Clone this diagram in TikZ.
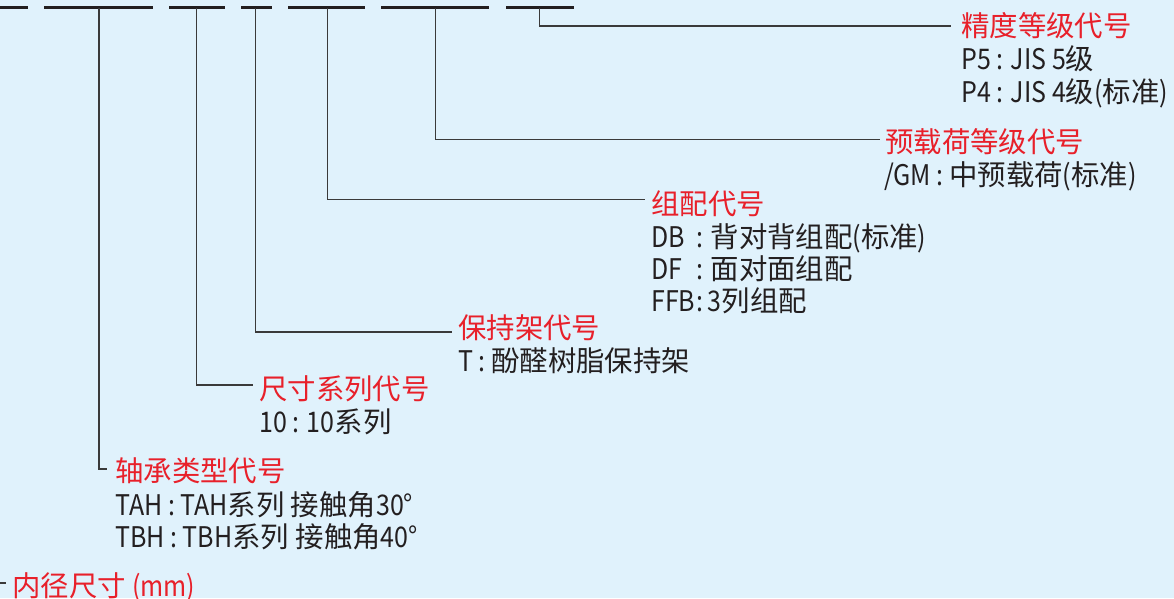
\documentclass[tikz,border=0pt]{standalone}
\usepackage{fontspec}
\setmainfont{Noto Sans CJK SC}
\newfontfamily\latnfont[FakeStretch=0.88]{Noto Sans CJK SC}
\newcommand\Lt[1]{{\latnfont #1}}
\definecolor{bg}{HTML}{E0F2FC}
\definecolor{redt}{HTML}{E8202A}
\definecolor{blk}{HTML}{231F20}
\definecolor{lnc}{HTML}{3A3A3A}
\tikzset{
  barseg/.style={line width=3.4pt,draw=blk},
  conn/.style={line width=1.3pt,draw=lnc},
  head/.style={anchor=base west,inner sep=0pt,text=redt,font=\fontsize{28.4}{30}\selectfont},
  body/.style={anchor=base west,inner sep=0pt,text=blk,font=\fontsize{28.4}{30}\selectfont},
}
\begin{document}
\begin{tikzpicture}[x=1pt,y=-1pt]
\fill[bg] (0,0) rectangle (1174,598);
\useasboundingbox (0,0) rectangle (1174,598);
% bar segments
\foreach \a/\b in {0/27.5,44/153,169/225,241/272,288/365,381/489,506/574}
  \draw[barseg] (\a,7.5) -- (\b,7.5);
% coordinates on bars
\coordinate (b1) at (99,7.5);
\coordinate (b2) at (196.5,7.5);
\coordinate (b3) at (255.6,7.5);
\coordinate (b4) at (327.6,7.5);
\coordinate (b5) at (435.2,7.5);
\coordinate (b6) at (539.5,7.5);
% connector ends
\coordinate (e1) at (107,469);
\coordinate (e2) at (253,385);
\coordinate (e3) at (452,332);
\coordinate (e4) at (645,199.5);
\coordinate (e5) at (880,139.5);
\coordinate (e6) at (951,26);
\coordinate (t0a) at (0,583);
\coordinate (t0b) at (5.5,583);
\foreach \i in {1,...,6} \draw[conn] (b\i) |- (e\i);
\draw[conn] (t0a) -- (t0b);
% group 6: precision
\node[head] (h6) at (961,36) {精度等级代号};
\node[body] (d6a) at (961,69) {\Lt{P5 : JIS 5}级};
\node[body] (d6b) at (961,102) {\Lt{P4 : JIS 4}级\Lt{(}标准\Lt{)}};
% group 5: preload
\node[head] (h5) at (885,152) {预载荷等级代号};
\node[body] (d5a) at (884,185) {\Lt{/GM : }中预载荷\Lt{(}标准\Lt{)}};
% group 4: arrangement
\node[head] (h4) at (651,214) {组配代号};
\node[body] (d4a) at (651,247) {\Lt{\makebox[45pt][l]{DB}: }背对背组配\Lt{(}标准\Lt{)}};
\node[body] (d4b) at (651,279) {\Lt{\makebox[45pt][l]{DF}: }面对面组配};
\node[body] (d4c) at (651,311) {\Lt{\makebox[45pt][l]{FFB}:\,3}列组配};
% group 3: cage
\node[head] (h3) at (458,338) {保持架代号};
\node[body] (d3a) at (458,371) {\Lt{T : }酚醛树脂保持架};
% group 2: dimension series
\node[head] (h2) at (259,399) {尺寸系列代号};
\node[body] (d2a) at (259,432) {\Lt{10 : 10}系列};
% group 1: type
\node[head] (h1) at (115,481) {轴承类型代号};
\node[body] (d1a) at (115,515) {\Lt{TAH : TAH}系列 接触角\Lt{30°}};
\node[body] (d1b) at (115,547) {\Lt{TBH : TBH}系列 接触角\Lt{40°}};
% bore
\node[head] (h0) at (12,596) {内径尺寸 \Lt{(mm)}};
\end{tikzpicture}
\end{document}
